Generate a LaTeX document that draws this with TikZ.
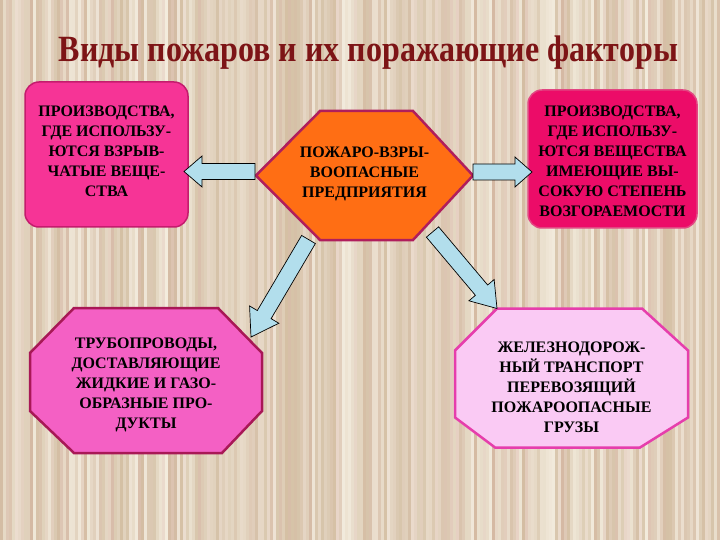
\documentclass[tikz,border=0pt]{standalone}
\usepackage{fontspec}
\setmainfont{Liberation Serif}
\newfontfamily\titlefont[FakeStretch=0.865]{Liberation Serif}
\usetikzlibrary{calc}

\definecolor{titlered}{RGB}{125,20,22}
\definecolor{stripelight}{RGB}{244,238,224}
\definecolor{stripedark}{RGB}{212,192,164}
\definecolor{stripepink}{RGB}{214,170,160}
\definecolor{arrowblue}{RGB}{178,222,236}
\definecolor{lboxfill}{RGB}{246,52,150}
\definecolor{lboxdraw}{RGB}{196,28,110}
\definecolor{rboxfill}{RGB}{236,12,104}
\definecolor{rboxdraw}{RGB}{226,70,130}
\definecolor{hexfill}{RGB}{255,110,20}
\definecolor{hexdraw}{RGB}{176,30,92}
\definecolor{ooctfill}{RGB}{244,96,196}
\definecolor{ooctdraw}{RGB}{168,24,86}
\definecolor{poctfill}{RGB}{250,202,244}
\definecolor{poctdraw}{RGB}{230,62,172}

\pgfdeclarelayer{bg}
\pgfdeclarelayer{shapes}
\pgfsetlayers{bg,shapes,main}

\tikzset{
  boxtext/.style={font=\bfseries\fontsize{16}{20}\selectfont, align=center, text=black, inner sep=0pt},
  shapenode/.style={rectangle, inner sep=0pt, outer sep=0pt},
  roundbox/.style={boxtext, shapenode, rounded corners=14pt, line width=1.5pt},
  head half/.store in=\bahh, head half=16pt,
  blockarrow/.style={draw=black, line width=0.7pt, fill=arrowblue, line join=miter,
    to path={
      ($(\tikztotarget)!#1!(\tikztostart)$) coordinate (bahead)
      ($(\tikztostart)!8pt!90:(\tikztotarget)$)
      -- ($(bahead)!8pt!90:(\tikztotarget)$)
      -- ($(bahead)!\bahh!90:(\tikztotarget)$)
      -- (\tikztotarget)
      -- ($(bahead)!\bahh!-90:(\tikztotarget)$)
      -- ($(bahead)!8pt!-90:(\tikztotarget)$)
      -- ($(\tikztostart)!8pt!-90:(\tikztotarget)$)
      -- cycle}},
  blockarrow/.default=18pt
}

\begin{document}
\begin{tikzpicture}[x=1pt,y=-1pt]
\useasboundingbox (0,0) rectangle (720,540);
% striped wooden background
\begin{pgfonlayer}{bg}
\pgfmathsetseed{23}
\foreach \i in {0,...,239}{
  \pgfmathsetmacro\mixv{int(100*rnd)}
  \pgfmathsetmacro\mixp{0.45*rnd*rnd}
  \fill[stripelight!\mixv!stripedark] (\i*3,0) rectangle ++(3.3,540);
  \fill[stripepink, opacity=\mixp] (\i*3,0) rectangle ++(3.3,540);
}
\end{pgfonlayer}

\node (title) [anchor=base, font=\titlefont\bfseries\fontsize{37}{40}\selectfont, text=titlered]
  at (368.5,62) {Виды пожаров и их поражающие факторы};

% top left rounded box
\node (lbox) [roundbox, fill=lboxfill, draw=lboxdraw, minimum width=163pt, minimum height=145pt]
  at (106.5,154.5) {};
\node (lboxt) [boxtext] at (106.5,151)
  {ПРОИЗВОДСТВА,\\ГДЕ ИСПОЛЬЗУ-\\ЮТСЯ ВЗРЫВ-\\ЧАТЫЕ ВЕЩЕ-\\СТВА};

% top right rounded box
\node (rbox) [roundbox, fill=rboxfill, draw=rboxdraw, minimum width=169pt, minimum height=138pt]
  at (612.5,159) {};
\node (rboxt) [boxtext] at (612.5,161)
  {ПРОИЗВОДСТВА,\\ГДЕ ИСПОЛЬЗУ-\\ЮТСЯ ВЕЩЕСТВА\\ИМЕЮЩИЕ ВЫ-\\СОКУЮ СТЕПЕНЬ\\ВОЗГОРАЕМОСТИ};

% central hexagon
\node (hex) [shapenode, minimum width=217pt, minimum height=129pt] at (364.5,175.5) {};
\begin{pgfonlayer}{shapes}
\draw[fill=hexfill, draw=hexdraw, line width=2.5pt, line join=miter]
  (hex.west) -- ($(hex.north west)+(64,0)$) -- ($(hex.north east)+(-60,0)$) -- (hex.east)
  -- ($(hex.south east)+(-60,0)$) -- ($(hex.south west)+(64,0)$) -- cycle;
\end{pgfonlayer}
\node (hext) [boxtext] at (364.5,174) {ПОЖАРО-ВЗРЫ-\\ВООПАСНЫЕ\\ПРЕДПРИЯТИЯ};

% bottom left octagon
\node (oct1) [shapenode, minimum width=232pt, minimum height=145pt] at (146,380.5) {};
\begin{pgfonlayer}{shapes}
\draw[fill=ooctfill, draw=ooctdraw, line width=2.5pt, line join=miter]
  ($(oct1.north west)+(44,0)$) -- ($(oct1.north east)+(-44,0)$) -- ($(oct1.north east)+(0,45)$)
  -- ($(oct1.south east)+(0,-42)$) -- ($(oct1.south east)+(-40,0)$) -- ($(oct1.south west)+(44,0)$)
  -- ($(oct1.south west)+(0,-42)$) -- ($(oct1.north west)+(0,45)$) -- cycle;
\end{pgfonlayer}
\node (oct1t) [boxtext] at (146,385)
  {ТРУБОПРОВОДЫ,\\ДОСТАВЛЯЮЩИЕ\\ЖИДКИЕ И ГАЗО-\\ОБРАЗНЫЕ ПРО-\\ДУКТЫ};

% bottom right octagon
\node (oct2) [shapenode, minimum width=233pt, minimum height=139pt] at (571.5,378) {};
\begin{pgfonlayer}{shapes}
\draw[fill=poctfill, draw=poctdraw, line width=2.5pt, line join=miter]
  ($(oct2.north west)+(42,0)$) -- ($(oct2.north east)+(-46,0)$) -- ($(oct2.north east)+(0,42)$)
  -- ($(oct2.south east)+(0,-30)$) -- ($(oct2.south east)+(-48,0)$) -- ($(oct2.south west)+(40,0)$)
  -- ($(oct2.south west)+(0,-30)$) -- ($(oct2.north west)+(0,42)$) -- cycle;
\end{pgfonlayer}
\node (oct2t) [boxtext] at (571.5,387)
  {ЖЕЛЕЗНОДОРОЖ-\\НЫЙ ТРАНСПОРТ\\ПЕРЕВОЗЯЩИЙ\\ПОЖАРООПАСНЫЕ\\ГРУЗЫ};

% block arrows
\coordinate (la) at ([shift={(-1,-4)}]hex.west);
\coordinate (ra) at ([shift={(0,-3.5)}]hex.east);
\draw[blockarrow=18pt, head half=15.5pt] (la) to ([xshift=-4pt]lbox.east |- la);
\draw[blockarrow=17pt, head half=15pt] (ra) to ([xshift=4pt]rbox.west |- ra);
\draw[blockarrow=26pt, head half=17pt] ([shift={(-56,-0.5)}]hex.south) to ([shift={(-11,29)}]oct1.north east);
\draw[blockarrow=24pt, head half=16.5pt] ([shift={(68,-8)}]hex.south) to ([shift={(42,0)}]oct2.north west);
\end{tikzpicture}
\end{document}
